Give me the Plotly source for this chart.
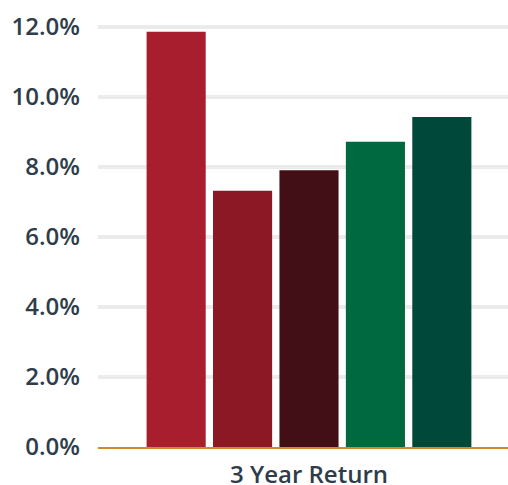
import plotly.graph_objects as go

categories = ["3 Year Return"]
series_names = ["Series 1", "Series 2", "Series 3", "Series 4", "Series 5"]
series_values = [11.85, 7.31, 7.9, 8.71, 9.42]
series_colors = ["#A91E2F", "#8C1826", "#430F17", "#006940", "#00493A"]
tick_vals = [0, 2, 4, 6, 8, 10, 12]
tick_text = ["0.0%", "2.0%", "4.0%", "6.0%", "8.0%", "10.0%", "12.0%"]

fig = go.Figure()
for name, val, col in zip(series_names, series_values, series_colors):
    fig.add_trace(go.Bar(x=categories, y=[val], name=name, marker_color=col,
                         marker_line_width=0, hoverinfo="skip"))

text_color = "#2E3D49"
tfont = dict(size=24, family="Open Sans", color=text_color, weight=600)

fig.update_layout(
    width=508, height=485,
    margin=dict(l=98, r=0, t=16, b=38, pad=0, autoexpand=False),
    barmode="group",
    bargap=0.213,
    bargroupgap=0.11,
    showlegend=False,
    plot_bgcolor="white",
    paper_bgcolor="white",
    font=dict(family="Open Sans", color=text_color),
    xaxis=dict(
        range=[-0.5, 0.4716],
        showgrid=False,
        showline=True, linecolor="#D08A2A", linewidth=2,
        tickfont=tfont,
        ticklabelstandoff=5,
        zeroline=False,
        automargin=False,
    ),
    yaxis=dict(
        range=[0, 12.3],
        tickvals=tick_vals, ticktext=tick_text,
        showgrid=True, gridcolor="#EBEBEB", gridwidth=4,
        zeroline=False, showline=False,
        tickfont=tfont,
        ticklabelstandoff=17,
        automargin=False,
    ),
)

fig.write_html(
    "out.html",
    config={"displayModeBar": False},
    post_script="document.body.style.margin='0';document.body.style.overflow='hidden';",
)
